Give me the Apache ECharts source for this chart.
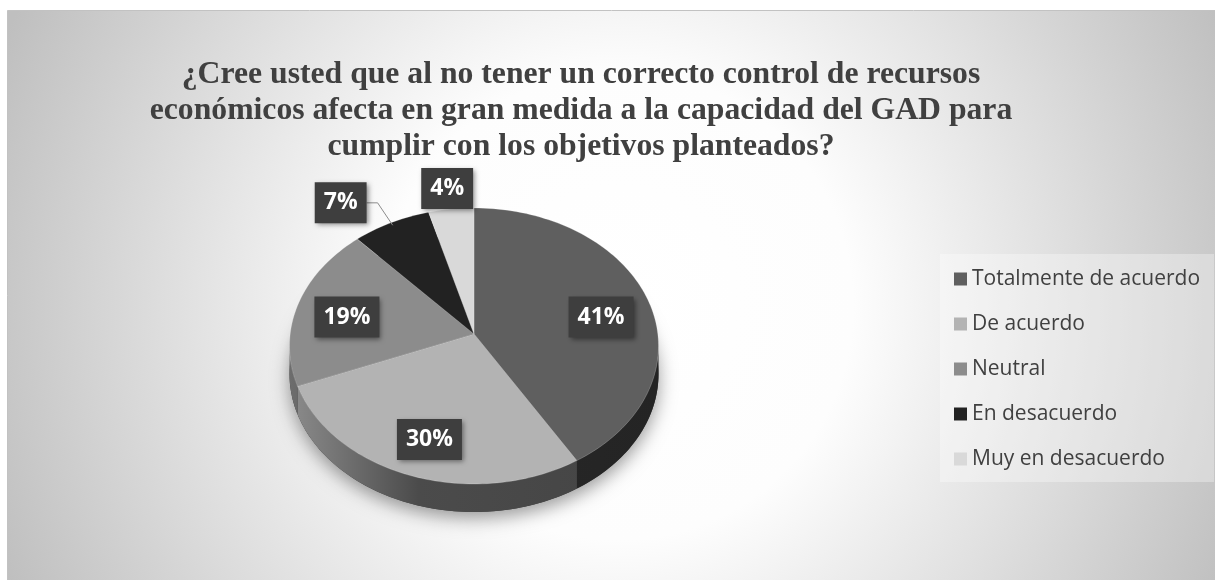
<!DOCTYPE html>
<html lang="es">
<head>
<meta charset="UTF-8">
<title>Control de recursos económicos</title>
<style>
  html, body { margin: 0; padding: 0; background: #fff; }
  #chart { width: 1215px; height: 580px; }
</style>
</head>
<body>
<div id="chart"></div>
<script src="https://cdn.jsdelivr.net/npm/echarts@6/dist/echarts.min.js"></script>
<script>
var titulo = '¿Cree usted que al no tener un correcto control de recursos\neconómicos afecta en gran medida a la capacidad del GAD para\ncumplir con los objetivos planteados?';
var categorias = ['Totalmente de acuerdo', 'De acuerdo', 'Neutral', 'En desacuerdo', 'Muy en desacuerdo'];
var porcentajes = [41, 30, 19, 7, 4];
var colores = ['#5f5f5f', '#b3b3b3', '#8c8c8c', '#222222', '#d9d9d9'];

// elipse del pastel "3D" (centro, radios, grosor, vertice un poco elevado)
var PIE = { cx: 474, cy: 346, rx: 184.5, ry: 138, depth: 28, lift: 12 };

var total = porcentajes.reduce(function (a, b) { return a + b; }, 0);
var inicio = [];
var acum = 0;
porcentajes.forEach(function (v) { inicio.push(acum); acum += v; });

function angulo(frac) { return -Math.PI / 2 + frac * Math.PI * 2; }
function punto(t, dy) {
  return [PIE.cx + PIE.rx * Math.cos(t), PIE.cy + PIE.ry * Math.sin(t) + (dy || 0)];
}
function arco(t0, t1, dy) {
  var n = Math.max(2, Math.ceil((t1 - t0) / (Math.PI / 120)));
  var pts = [];
  for (var k = 0; k <= n; k++) pts.push(punto(t0 + (t1 - t0) * k / n, dy));
  return pts;
}
function gris(hex, f) {
  var c = Math.round(parseInt(hex.slice(1, 3), 16) * f);
  return 'rgb(' + c + ',' + c + ',' + c + ')';
}
function etiqueta(texto, x, y, align, valign) {
  return {
    type: 'text', z2: 20,
    style: {
      text: texto, x: x, y: y, align: align, verticalAlign: valign,
      fill: '#ffffff', font: 'bold 23px "Open Sans"', lineHeight: 27,
      backgroundColor: '#3e3e3e', padding: [7, 9, 7, 9],
      shadowBlur: 5, shadowColor: 'rgba(0,0,0,0.45)', shadowOffsetX: 2, shadowOffsetY: 2
    }
  };
}

function renderItem(params, api) {
  var i = params.dataIndex;
  var t0 = angulo(inicio[i] / total);
  var t1 = angulo((inicio[i] + porcentajes[i]) / total);
  var col = colores[i];
  var hijos = [];

  if (i === 0) {
    // base con sombra bajo todo el pastel
    hijos.push({
      type: 'polygon', z2: -1,
      shape: { points: arco(0, Math.PI * 2, PIE.depth) },
      style: { fill: '#3a3a3a', shadowBlur: 18, shadowColor: 'rgba(0,0,0,0.4)', shadowOffsetY: 6 }
    });
  }

  // cara lateral visible (mitad frontal)
  var s = Math.max(t0, 0), e = Math.min(t1, Math.PI);
  if (e > s) {
    var sup = arco(s, e, 0);
    var inf = arco(s, e, PIE.depth).reverse();
    hijos.push({
      type: 'polygon', z2: 1,
      shape: { points: sup.concat(inf) },
      style: {
        fill: new echarts.graphic.LinearGradient(PIE.cx - PIE.rx, 0, PIE.cx + PIE.rx, 0, [
          { offset: 0, color: gris(col, 0.78) },
          { offset: 0.35, color: gris(col, 0.42) },
          { offset: 1, color: gris(col, 0.38) }
        ], true)
      }
    });
  }

  // cara superior
  var apex = [PIE.cx, PIE.cy - PIE.lift];
  hijos.push({
    type: 'polygon', z2: 5,
    shape: { points: [apex].concat(arco(t0, t1, 0)) },
    style: { fill: col, stroke: 'rgba(255,255,255,0.25)', lineWidth: 0.8 }
  });

  // etiqueta
  var txt = porcentajes[i] + '%';
  var tm = (t0 + t1) / 2;
  if (porcentajes[i] / total >= 0.1) {
    var p = [PIE.cx + PIE.rx * 0.72 * Math.cos(tm), PIE.cy + PIE.ry * 0.72 * Math.sin(tm)];
    hijos.push(etiqueta(txt, p[0], p[1], 'center', 'middle'));
  } else {
    var borde = punto(tm, 0);
    var dx = PIE.rx * Math.cos(tm), dy = PIE.ry * Math.sin(tm);
    var len = Math.sqrt(dx * dx + dy * dy);
    dx /= len; dy /= len;
    var lado = dx < 0 ? -1 : 1;
    if (Math.abs(dx) > 0.3) {
      var p1 = [borde[0] + dx * 24, borde[1] + dy * 24];
      var p2 = [p1[0] + lado * 11, p1[1]];
      hijos.push({
        type: 'polyline', z2: 15,
        shape: { points: [[borde[0] - 3 * dx, borde[1] - 3 * dy], p1, p2] },
        style: { stroke: '#8c8c8c', lineWidth: 1, fill: null }
      });
      hijos.push(etiqueta(txt, p2[0], p2[1], lado < 0 ? 'right' : 'left', 'middle'));
    } else {
      hijos.push(etiqueta(txt, borde[0] - lado * 22, borde[1], lado < 0 ? 'right' : 'left', 'bottom'));
    }
  }

  return { type: 'group', children: hijos };
}

var myChart = echarts.init(document.getElementById('chart'));
var option = {
  animation: false,
  color: colores,
  graphic: [{
    type: 'rect', z: -10, left: 7, top: 10, silent: true,
    shape: { width: 1208, height: 570 },
    style: {
      fill: new echarts.graphic.RadialGradient(611, 295, 670, [
        { offset: 0, color: '#ffffff' },
        { offset: 0.35, color: '#fdfdfd' },
        { offset: 1, color: '#bfbfbf' }
      ], true),
      stroke: '#c2c2c2', lineWidth: 1
    }
  }],
  title: {
    text: titulo,
    left: 576, top: 52, textAlign: 'center',
    textStyle: { fontFamily: 'Liberation Serif', fontWeight: 'bold', fontSize: 31.7, lineHeight: 36, color: '#404040' }
  },
  legend: {
    orient: 'vertical',
    left: 940, top: 254,
    padding: [13, 14, 11, 14],
    backgroundColor: 'rgba(255,255,255,0.32)',
    icon: 'rect', itemWidth: 13, itemHeight: 13, itemGap: 21,
    selectedMode: false,
    data: categorias,
    textStyle: { fontFamily: 'Open Sans', fontSize: 21, lineHeight: 24, color: '#404040' }
  },
  series: [
    {
      // solo para la leyenda
      type: 'pie', radius: [0, 0], silent: true,
      label: { show: false }, labelLine: { show: false },
      data: categorias.map(function (c, i) { return { name: c, value: porcentajes[i] }; })
    },
    {
      type: 'custom', coordinateSystem: 'none', silent: true,
      renderItem: renderItem,
      data: categorias.map(function (c, i) { return { name: c, value: porcentajes[i] }; })
    }
  ]
};
myChart.setOption(option);
</script>
</body>
</html>
